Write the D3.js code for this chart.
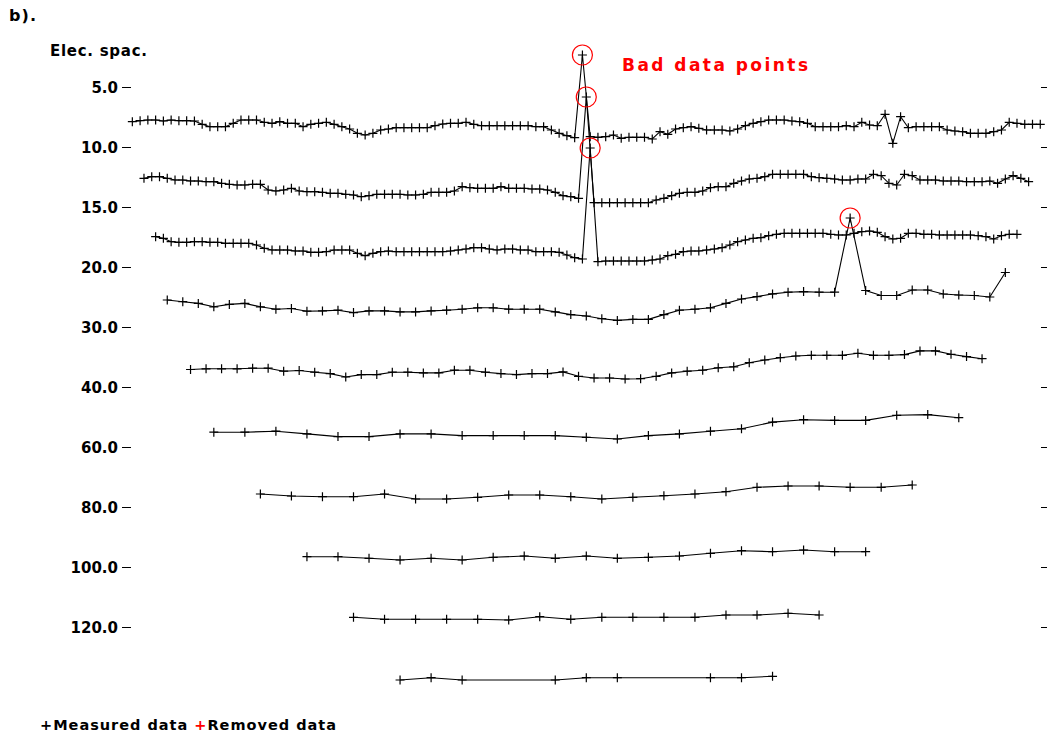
<!DOCTYPE html>
<html><head><meta charset="utf-8">
<script src="https://cdn.jsdelivr.net/npm/d3@7/dist/d3.min.js"></script>
<style>
body{margin:0;background:#fff}
svg{display:block}
text{font-family:"DejaVu Sans",sans-serif;font-weight:bold;fill:#000}
</style>
</head><body>
<svg id="chart" width="1052" height="740"></svg>
<script>
// ---- data ----
const levelLabels = ["5.0","10.0","15.0","20.0","30.0","40.0","60.0","80.0","100.0","120.0"];
const elecSpacing = [5,10,15,20,30,40,60,80,100,120];          // m
const firstMidpoint = [7.5,15,22.5,30,45,60,90,120,150,180];   // m
const datumStep = [5,5,5,10,10,20,20,20,20,20];                // m
const levelMean = [-38,-38,-38,-38,-43,-45,-48,-50,-51,-51];   // mean level of each data row (relative units)

// relative apparent resistivity of each datum, per level (positive = higher)
const level1 = [3.3,4.3,5,5,4,5,4.3,4.3,4,0.7,
 -1.7,-1.7,-1.7,1.7,5,5,5,2.7,1.7,3.3,
 1.7,1.7,-1.7,0.7,1.7,2.7,0.7,-1.7,-4,-8.3,
 -10,-8.3,-5,-4,-2.7,-2.7,-2.7,-2.7,-2.7,-0.7,
 1,1.7,1.7,2.7,0.7,-0.7,-0.7,-0.7,-0.7,-0.7,
 -0.7,-0.7,-1.7,-1.7,-5,-8.3,-10.7,-12.7,
 70,
 -11.7,-12.3,-11.7,-10,-13.3,-12.3,-12.3,-12.3,-14,-6.7,
 -9.3,-4,-2.7,-1.7,-3.3,-5,-5,-5,-6,-4,
 -0.7,1.7,3.3,5,5,5,4,3.3,1.7,-1.7,
 -1.7,-1.7,-1.7,-0.7,-1.7,2.7,0,-0.7,10.7,-18.3,
 8.3,-2.7,-1.7,-1.7,-1.7,-1.7,-5,-6,-6.7,-8.3,
 -8.3,-8.3,-6.7,-5,2.7,1.7,0.7,0.7,0.7];
const level2 = [6.7,8.3,8.3,6.7,5,5,4,4,3.3,3.3,
 1.7,0.7,0,0,0.7,0.7,-5,-6,-5,-3.3,
 -6,-6.7,-6.7,-7.3,-8.3,-8.3,-9.3,-10,-11.7,-10.7,
 -9.3,-9.3,-9.3,-9.3,-10,-10,-9.3,-7.3,-7.3,-7.3,
 -6,-1.7,-2.7,-3.3,-3.3,-3.3,-1.7,-3.3,-3.3,-3.3,
 -4,-4,-5,-7.3,-10.7,-11.7,-13.3,
 88,
 -17.7,-17.7,-17.7,-17.7,-17.7,-17.7,-17.7,-17.7,-15,-13.3,
 -10.7,-8.3,-7.3,-7.3,-6,-2.7,-1.7,-1.7,1.7,4,
 6,6.7,8.3,10.7,10.7,10.7,10.7,10.7,8.3,7.3,
 6.7,6,5,5,6,6,10.7,9.3,1.7,0,
 10.7,9.3,5,5,5,4,4,4,3.3,3.3,
 3.3,4,1.7,6,9.3,6.7,3.3];
const level3 = [8.3,6.7,3.3,2.7,2.7,3.3,3.3,2.7,2.7,1.7,
 1.7,1.7,1.7,0,-3.3,-5,-5,-5,-6,-6,
 -7.3,-7.3,-6.7,-5,-5,-5,-8.3,-10.7,-8.3,-6.7,
 -6,-6.7,-6.7,-6.7,-6.7,-6.7,-6.7,-6.7,-6,-5,
 -4,-2.7,-2.7,-4,-5,-4,-4,-5,-5,-6.7,
 -6.7,-6.7,-7.3,-10,-12.7,-14,
 97,
 -16.7,-16,-16,-16,-16,-16,-16,-15,-14,-10.7,
 -9.3,-6.7,-6,-6,-5,-4,-2.7,0,3.3,5,
 6.7,7.3,9.3,10.7,11.7,11.7,11.7,11.7,11.7,11.7,
 10.7,10,10,11.7,13.3,14,12.7,8.3,6,6.7,
 11.7,11.7,10.7,10.7,10,10,10,10,10,9.3,
 8.3,6,9.3,10.7,10.7];
const level4 = [5,3.3,1.6,-1.8,0.6,1.6,-1.8,-4.2,-3.5,-6.2,
 -5.9,-5.2,-7.6,-5.9,-5.9,-6.9,-6.9,-5.9,-5.2,-4.2,
 -2.8,-2.8,-4.2,-4.2,-4.2,-6.9,-9.6,-11,-13.7,-15.4,
 -14.4,-14.4,-9.6,-5.2,-4.2,-2.8,1.6,6,8.4,11.1,
 12.8,13.4,12.8,12.8,
 87,
 14.5,9.5,9.5,15,15,11,10,9.5,8,32.5];
const level5 = [0.5,1.2,1.2,1.2,1.8,1.8,-1.2,-0.5,-2.2,-3.6,
 -7,-4.6,-4.6,-2.2,-2.2,-2.9,-2.9,-0.2,-0.2,-2.2,
 -3.6,-4.6,-3.6,-3.6,-1.9,-6.3,-8,-8,-9,-8.7,
 -6.3,-2.9,-1.2,-0.2,2.2,3.2,7.3,10,12.3,14,
 14.7,14.7,14.7,16.7,14.7,14.7,15.4,19.1,19.1,15.7,
 13.4,11.3];
const level6 = [-0.2,-0.2,0.8,-1.9,-4.6,-4.6,-1.9,-1.9,-3.6,-3.6,-3.6,-3.6,-5.3,-7,-3.6,-1.9,0.8,3.2,9.9,12.3,11.6,11.6,16.7,17.4,14.3];
const level7 = [1,-1,-1.7,-1.7,1,-4,-4,-2.3,0,0,-1.7,-4,-2.3,-0.7,1,3.3,7.7,9,9,7.7,7.7,10];
const level8 = [0.3,0.3,-1.3,-3,-1.3,-3,-0.3,1,-1.3,1,-1.3,-0.3,1,3.7,6.3,5.3,7,5.3,5.3];
const level9 = [0.7,-1.3,-1.3,-1.3,-1.3,-2,1.3,-1.3,0.7,0.7,0.7,0.7,3,3,4.7,3];
const level10 = [-2,0.3,-2,null,null,-2,0.3,0.3,null,null,0.3,0.3,1.7];
const levels = [level1,level2,level3,level4,level5,level6,level7,level8,level9,level10];

// removed (bad) data: [level index, datum index]
const badData = [[0,58],[1,57],[2,56],[3,44]];

const panelLabel = "b).";
const axisTitle = "Elec. spac.";
const annotation = "Bad data points";
const legendItems = [{mark:"+",text:"Measured data",color:"#000"},{mark:"+",text:"Removed data",color:"#ff0000"}];

// ---- drawing ----
const svg = d3.select("#chart");
const x = d3.scaleLinear().domain([0,600]).range([120.7,1051.9]);
const yLevel = d3.scalePoint().domain(levelLabels).range([87,627]);
const yRel = d3.scaleLinear().domain([-100,100]).range([100,-100]);

const pos = (r,i,d) => ({x:x(firstMidpoint[r]+i*datumStep[r]), y:yLevel(levelLabels[r]) + yRel(levelMean[r]+d)});

// left axis
const leftAxis = d3.axisLeft(yLevel).tickSizeInner(-9).tickSizeOuter(0).tickPadding(4);
const gL = svg.append("g").attr("transform","translate(122,0)").call(leftAxis);
gL.select(".domain").remove();
gL.selectAll(".tick line").attr("stroke","#000").attr("stroke-width",1.6).attr("shape-rendering","crispEdges");
gL.selectAll(".tick text").attr("font-size",15).attr("font-family","DejaVu Sans").attr("font-weight","bold").attr("fill","#000").attr("dy","0.35em");

// right ticks
const rightAxis = d3.axisRight(yLevel).tickSizeInner(6).tickSizeOuter(0).tickFormat("");
const gR = svg.append("g").attr("transform","translate(1041,0)").call(rightAxis);
gR.select(".domain").remove();
gR.selectAll(".tick line").attr("stroke","#000").attr("stroke-width",1.2).attr("shape-rendering","crispEdges");

const line = d3.line().x(p=>p.x).y(p=>p.y);
levels.forEach((vals,r)=>{
  const pts = vals.map((d,i)=> d==null?null:pos(r,i,d)).filter(p=>p);
  svg.append("path").attr("d",line(pts)).attr("fill","none").attr("stroke","#000").attr("stroke-width",1.1);
  svg.append("g").selectAll("path").data(pts).join("path")
    .attr("d",p=>`M${p.x-4.5},${p.y}H${p.x+4.5}M${p.x},${p.y-4.5}V${p.y+4.5}`)
    .attr("stroke","#000").attr("stroke-width",1.2).attr("fill","none");
});

svg.append("g").selectAll("circle").data(badData).join("circle")
  .attr("cx",d=>pos(d[0],d[1],levels[d[0]][d[1]]).x)
  .attr("cy",d=>pos(d[0],d[1],levels[d[0]][d[1]]).y)
  .attr("r",10).attr("fill","none").attr("stroke","#ff0000").attr("stroke-width",1.2);

svg.append("text").attr("x",9).attr("y",21).attr("font-size",16).attr("textLength",27).text(panelLabel);
svg.append("text").attr("x",50).attr("y",56).attr("font-size",15).attr("textLength",97).text(axisTitle);
svg.append("text").attr("x",622).attr("y",71).attr("font-size",17).attr("textLength",186)
  .attr("lengthAdjust","spacing").style("fill","#ff0000").text(annotation);

const lg = svg.append("text").attr("x",40).attr("y",730).attr("font-size",14.5);
lg.append("tspan").text(legendItems[0].mark).style("fill",legendItems[0].color);
lg.append("tspan").text(legendItems[0].text+" ");
lg.append("tspan").text(legendItems[1].mark).style("fill",legendItems[1].color);
lg.append("tspan").text(legendItems[1].text);
lg.attr("textLength",296).attr("lengthAdjust","spacing");
</script>
</body></html>
